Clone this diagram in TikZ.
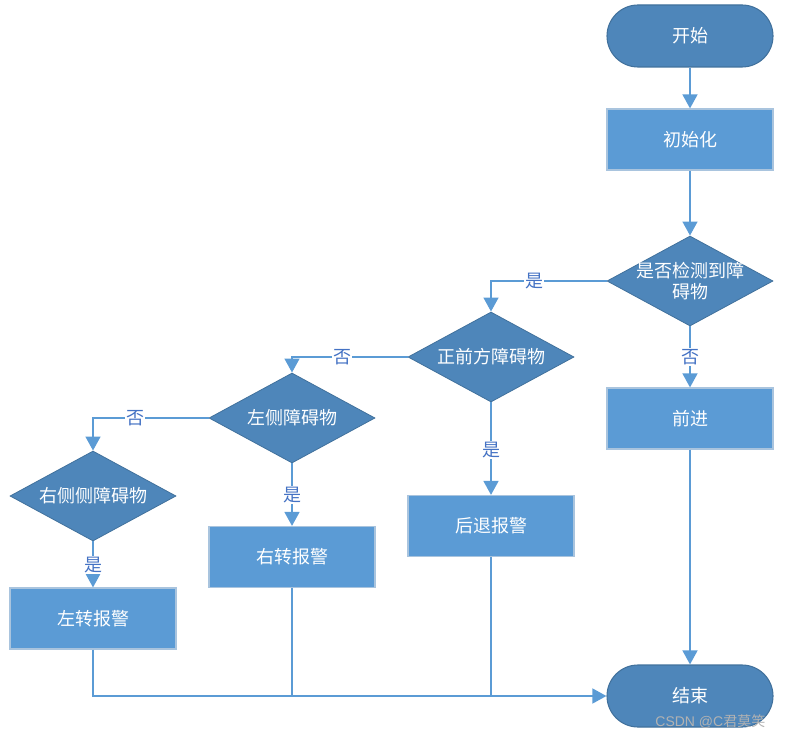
\documentclass[tikz,border=0pt]{standalone}
\usepackage{fontspec}
\newfontfamily\cjk{Noto Sans CJK SC}
\usetikzlibrary{shapes.geometric,arrows.meta}
\definecolor{darkfill}{HTML}{4E86BA}
\definecolor{darkline}{HTML}{41719C}
\definecolor{lightfill}{HTML}{5B9BD5}
\definecolor{lightline}{HTML}{A9C4DE}
\definecolor{conn}{HTML}{5B9BD5}
\definecolor{lbl}{HTML}{4472C4}
\tikzset{
  every node/.style={font=\cjk\fontsize{13.5}{16}\selectfont},
  terminal/.style={rectangle, rounded corners=23.25pt, fill=darkfill, draw=darkline, line width=0.8pt, text=white, minimum width=124.5pt, minimum height=46.5pt, inner sep=0pt},
  procbox/.style={rectangle, fill=lightfill, draw=lightline, line width=0.8pt, text=white, minimum width=124.5pt, minimum height=45.75pt, inner sep=0pt},
  decision/.style={diamond, fill=darkfill, draw=darkline, line width=0.6pt, minimum width=124.5pt, minimum height=67.5pt, inner sep=0pt, label={[text=white, align=center, font=\cjk\fontsize{13.5}{16}\selectfont]center:#1}},
  flow/.style={draw=conn, line width=1.8pt, -{Triangle[length=10.5pt,width=11pt]}},
  plain/.style={draw=conn, line width=1.8pt},
  lab/.style={fill=white, text=lbl, inner sep=1pt}
}
\begin{document}
\begin{tikzpicture}[x=0.75pt,y=-0.75pt]
\useasboundingbox (0,0) rectangle (785,741);
\node[terminal] (start) at (690,36) {开始};
\node[procbox] (init) at (690,139.5) {初始化};
\node[decision={是否检测到障\\碍物}] (d1) at (690,281) {};
\node[procbox] (fwd) at (690,418.5) {前进};
\node[terminal] (end) at (690,696) {结束};
\node[decision={正前方障碍物}] (d2) at (491,357) {};
\node[procbox] (back) at (491,526) {后退报警};
\node[decision={左侧障碍物}] (d3) at (292,418) {};
\node[procbox] (rturn) at (292,557) {右转报警};
\node[decision={右侧侧障碍物}] (d4) at (93,496) {};
\node[procbox] (lturn) at (93,618.5) {左转报警};
\coordinate (c1) at (491,281);
\coordinate (c2) at (292,357);
\coordinate (c3) at (93,418);
\coordinate (j1) at (93,696);
\coordinate (j2) at (292,696);
\coordinate (j3) at (491,696);

\draw[flow] (start) -- (init);
\draw[flow] (init) -- (d1);
\draw[flow] (d1.west) -- (c1) -- (d2.north);
\node[lab] at (534,281) {是};
\draw[flow] (d1.south) -- (fwd.north);
\node[lab] at (690,357) {否};
\draw[flow] (fwd) -- (end);
\draw[flow] (d2.west) -- (c2) -- (d3.north);
\node[lab] at (342,357) {否};
\draw[flow] (d2.south) -- (back.north);
\node[lab] at (491,450) {是};
\draw[flow] (d3.west) -- (c3) -- (d4.north);
\node[lab] at (135,418) {否};
\draw[flow] (d3.south) -- (rturn.north);
\node[lab] at (292,495) {是};
\draw[flow] (d4.south) -- (lturn.north);
\node[lab] at (93,565) {是};
\draw[flow] (lturn.south) -- (j1) -- (end.west);
\draw[plain] (rturn.south) -- (j2);
\draw[plain] (back.south) -- (j3);
\node[anchor=east, text=gray!60, font=\fontspec{Liberation Sans}\fontsize{10.5}{12}\selectfont] (wm) at (770,722) {CSDN @C\cjk 君莫笑};
\end{tikzpicture}
\end{document}
